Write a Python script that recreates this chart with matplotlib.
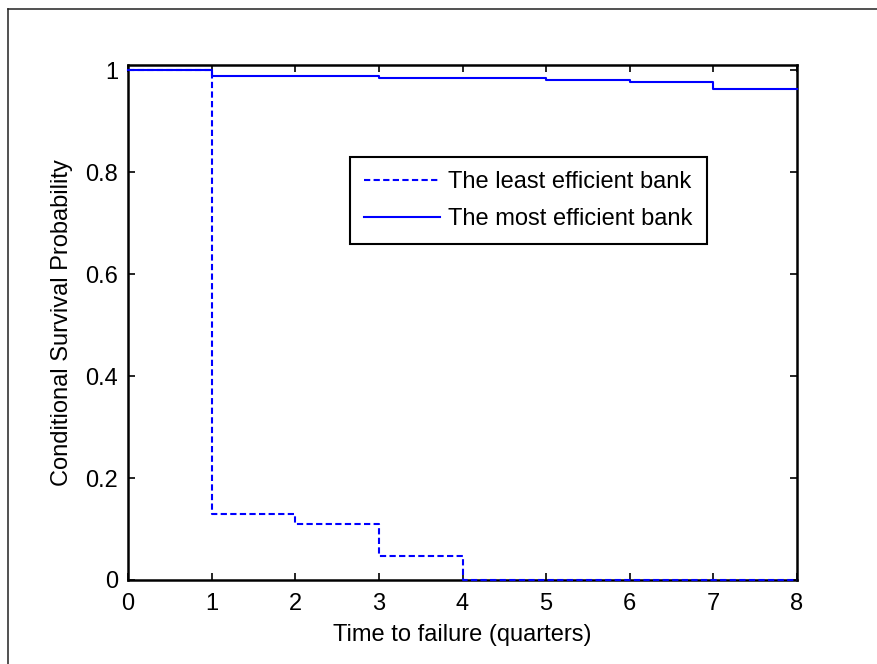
import matplotlib
matplotlib.use("Agg")
import matplotlib.pyplot as plt
from matplotlib.lines import Line2D

quarters = [0, 1, 2, 3, 4, 5, 6, 7, 8]
least_eff = [1.0, 0.129, 0.109, 0.048, 0.0, 0.0, 0.0, 0.0, 0.0]
most_eff = [1.0, 0.988, 0.988, 0.984, 0.984, 0.980, 0.976, 0.963, 0.963]
labels = ["The least efficient bank", "The most efficient bank"]
xticks = [0, 1, 2, 3, 4, 5, 6, 7, 8]
yticks = [0, 0.2, 0.4, 0.6, 0.8, 1]

plt.rcParams['font.family'] = ['Liberation Sans', 'DejaVu Sans']
FS = 17

fig = plt.figure(figsize=(8.77, 6.64), dpi=100)
ax = fig.add_axes([128/877, 1-580/664, (797-128)/877, (580-65)/664])

ax.step(quarters, least_eff, where='post', color='#0000ff', lw=1.5,
        linestyle=(0, (3, 1.6)), label=labels[0], clip_on=False, zorder=5)
ax.step(quarters, most_eff, where='post', color='#0000ff', lw=1.5,
        label=labels[1], clip_on=False, zorder=5)

ax.set_xlim(0, 8)
ax.set_ylim(0, 1.01)
ax.set_xticks(xticks)
ax.set_yticks(yticks)
ax.set_yticklabels(['0', '0.2', '0.4', '0.6', '0.8', '1'])
ax.tick_params(direction='in', length=5, width=1.2, top=True, right=True,
               labelsize=FS, pad=7, colors='black')
ax.tick_params(axis='x', pad=9)
for s in ax.spines.values():
    s.set_linewidth(1.8)
    s.set_color('black')
ax.set_xlabel("Time to failure (quarters)", fontsize=FS, labelpad=7)
ax.set_ylabel("Conditional Survival Probability", fontsize=FS, labelpad=9)

leg = ax.legend(loc='upper left', bbox_to_anchor=(350/877, 1-157/664),
                bbox_transform=fig.transFigure, borderaxespad=0,
                fontsize=FS, fancybox=False, framealpha=1, edgecolor='black',
                handlelength=3.2, handletextpad=0.35, borderpad=0.6,
                labelspacing=0.62)
leg.get_frame().set_linewidth(1.5)

# outer figure frame (top and left edges visible)
fig.add_artist(Line2D([8/877, 1.0], [1-9/664, 1-9/664], transform=fig.transFigure,
                      color='#222222', lw=1.1))
fig.add_artist(Line2D([8/877, 8/877], [0.0, 1-9/664], transform=fig.transFigure,
                      color='#222222', lw=1.1))

fig.savefig("out.png", dpi=100, facecolor='white')
